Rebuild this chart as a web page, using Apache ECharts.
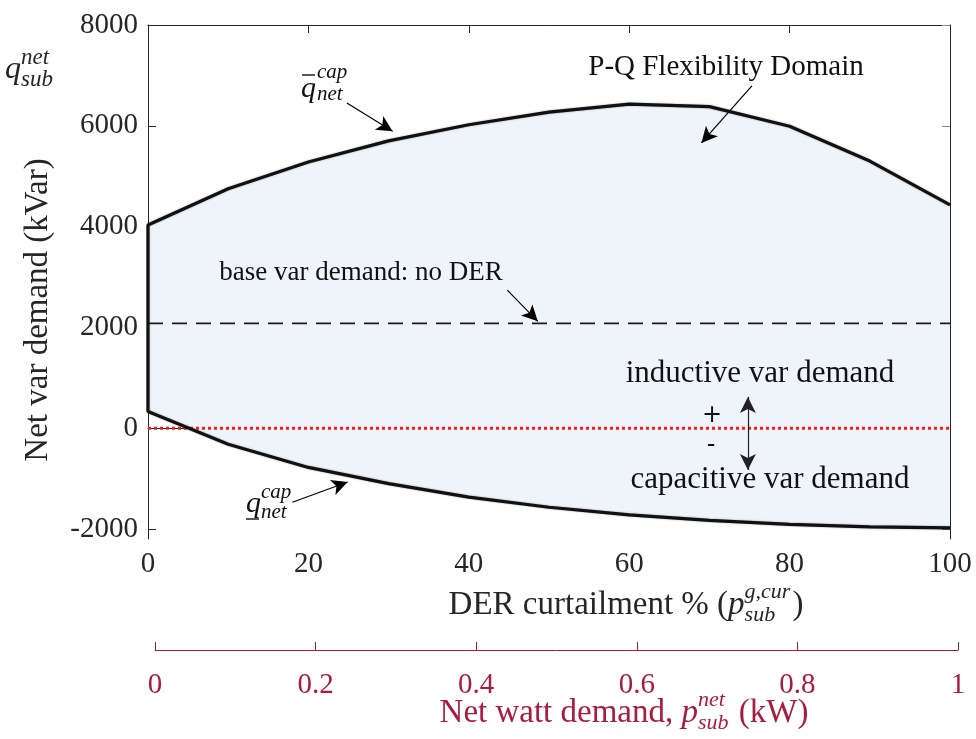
<!DOCTYPE html>
<html>
<head>
<meta charset="utf-8">
<script src="https://cdn.jsdelivr.net/npm/echarts@6/dist/echarts.min.js"></script>
<style>
  html, body { margin: 0; padding: 0; background: #fff; }
  #chart { width: 976px; height: 739px; }
</style>
</head>
<body>
<div id="chart"></div>
<script>
// DER curtailment (%) and the capability limits of the substation var demand
var curtailment = [0, 10, 20, 30, 40, 50, 60, 70, 80, 90, 100];
var upperCap = [4030, 4750, 5280, 5700, 6020, 6270, 6430, 6380, 5990, 5300, 4430];
var lowerCap = [330, -320, -780, -1100, -1370, -1570, -1720, -1830, -1910, -1960, -1980];
var baseVar = 2080;

var yTicks = [-2000, 0, 2000, 4000, 6000, 8000];
var wattTicks = [0, 0.2, 0.4, 0.6, 0.8, 1];

// annotation arrows, in data units [x, y]
var arrowUpper = [[24.8, 6450], [30.5, 5890]];
var arrowDomain = [[75.3, 6790], [69.0, 5660]];
var arrowBase = [[44.8, 2740], [48.6, 2120]];
var arrowLower = [[18.0, -1470], [24.9, -1070]];
var arrowSign = [[74.8, 620], [74.8, -830]];

var FONT = 'Liberation Serif';
var INK = '#262626';
var RED = '#a81c40';
var TICK = 29;
var TITLE = 33;

var ctx2d = document.createElement('canvas').getContext('2d');
function fontStr(size, italic) {
    return (italic ? 'italic ' : '') + size + 'px "' + FONT + '"';
}
function textWidth(t, size, italic) {
    ctx2d.font = fontStr(size, italic);
    return ctx2d.measureText(t).width;
}
function txt(t, x, y, size, italic, color, align) {
    return {
        type: 'text', silent: true, z: 100,
        style: {
            text: t, x: x, y: y, font: fontStr(size, italic), fill: color || INK,
            align: align || 'left', textAlign: align || 'left',
            verticalAlign: 'middle', textVerticalAlign: 'middle'
        }
    };
}
// a row of text with stacked super/subscripts, centred on cx
function mathRow(segs, cx, y, color) {
    var small = Math.round(TITLE * 0.68);
    var parts = [], w = 0;
    segs.forEach(function (s) {
        if (s.sup !== undefined) {
            parts.push({t: s.sup, dx: w, dy: -13, size: small, it: true});
            parts.push({t: s.sub, dx: w, dy: 10, size: small, it: true});
            w += Math.max(textWidth(s.sup, small, true), textWidth(s.sub, small, true)) + 2;
        } else {
            parts.push({t: s.t, dx: w, dy: 0, size: TITLE, it: !!s.it});
            w += textWidth(s.t, TITLE, !!s.it);
        }
    });
    return parts.map(function (p) {
        return txt(p.t, cx - w / 2 + p.dx, y + p.dy, p.size, p.it, color);
    });
}
function seg(a) {
    return {type: 'line', silent: true, z: 100, shape: {x1: a[0], y1: a[1], x2: a[2], y2: a[3]}, style: {stroke: '#111', lineWidth: 1.4}};
}

function arrow(pts, both, color) {
    return [
        {coord: pts[0], symbol: both ? 'arrow' : 'none', lineStyle: {color: color || '#000', width: 1.2, type: 'solid'}},
        {coord: pts[1], symbol: 'arrow'}
    ];
}

var outline = [];
for (var i = curtailment.length - 1; i >= 0; i--) outline.push([curtailment[i], upperCap[i]]);
for (var j = 0; j < curtailment.length; j++) outline.push([curtailment[j], lowerCap[j]]);

var graphics = [];
graphics.push({
    type: 'text', silent: true, x: 38, y: 310, rotation: Math.PI / 2,
    style: {text: 'Net var demand (kVar)', x: 0, y: 0, font: fontStr(TITLE, false), fill: INK,
        align: 'center', textAlign: 'center', verticalAlign: 'middle', textVerticalAlign: 'middle'}
});
graphics.push(txt('q', 5, 70, 32, true));
graphics.push(txt('net', 21, 58, 23, true));
graphics.push(txt('sub', 21, 80, 23, true));
graphics = graphics.concat(mathRow([{t: 'DER curtailment % ('}, {t: 'p', it: true}, {sup: 'g,cur', sub: 'sub'}, {t: ')'}], 626, 605, INK));
graphics = graphics.concat(mathRow([{t: 'Net watt demand, '}, {t: 'p', it: true}, {sup: 'net', sub: 'sub'}, {t: ' (kW)'}], 624, 713, RED));
graphics.push(txt('P-Q Flexibility Domain', 726, 67, 29, false, '#111', 'center'));
graphics.push(txt('base var demand: no DER', 361, 273, 27, false, '#111', 'center'));
graphics.push(txt('inductive var demand', 760, 374, 31, false, '#111', 'center'));
graphics.push(txt('capacitive var demand', 770, 480, 31, false, '#111', 'center'));
graphics.push({type: 'text', silent: true, z: 100, style: {text: '+', x: 712, y: 416, font: '24px "DejaVu Sans"', fill: '#111', align: 'center', textAlign: 'center', verticalAlign: 'middle', textVerticalAlign: 'middle'}});
graphics.push({type: 'text', silent: true, z: 100, style: {text: '-', x: 711, y: 446, font: '24px "DejaVu Sans"', fill: '#111', align: 'center', textAlign: 'center', verticalAlign: 'middle', textVerticalAlign: 'middle'}});
// upper / lower capability labels
graphics.push(txt('q', 301, 89, 30, true, '#111'));
graphics.push(seg([302, 75, 315, 75]));
graphics.push(txt('cap', 317, 72, 21, true, '#111'));
graphics.push(txt('net', 317, 94, 21, true, '#111'));
graphics.push(txt('q', 246, 504, 30, true, '#111'));
graphics.push(seg([246, 519, 259, 519]));
graphics.push(txt('cap', 261, 492, 21, true, '#111'));
graphics.push(txt('net', 261, 512, 21, true, '#111'));

function plain(v) { return String(v); }

var option = {
    animation: false,
    backgroundColor: '#fff',
    grid: [
        {left: 148, right: 26, top: 25, bottom: 200},
        {left: 155, right: 18, top: 650, height: 0}
    ],
    xAxis: [
        {
            type: 'value', gridIndex: 0, min: 0, max: 100, interval: 20,
            axisLine: {lineStyle: {color: INK, width: 1}},
            axisTick: {inside: true, length: 8, lineStyle: {color: INK}},
            axisLabel: {margin: 11, fontFamily: FONT, fontSize: TICK, color: INK, formatter: plain},
            splitLine: {show: false}
        },
        {
            type: 'value', gridIndex: 0, position: 'top', min: 0, max: 100, interval: 20,
            axisLine: {show: true, onZero: false, lineStyle: {color: INK, width: 1}},
            axisTick: {show: true, inside: true, length: 8, lineStyle: {color: INK}},
            axisLabel: {show: false},
            splitLine: {show: false}
        },
        {
            type: 'value', gridIndex: 1, position: 'bottom', min: 0, max: 1, interval: 0.2,
            axisLine: {onZero: false, lineStyle: {color: RED, width: 1}},
            axisTick: {inside: true, length: 8, lineStyle: {color: RED}},
            axisLabel: {margin: 21, fontFamily: FONT, fontSize: TICK, color: RED,
                customValues: wattTicks, formatter: plain},
            splitLine: {show: false}
        }
    ],
    yAxis: [
        {
            type: 'value', gridIndex: 0, min: -2200, max: 8000,
            axisLine: {show: true, onZero: false, lineStyle: {color: INK, width: 1}},
            axisTick: {show: true, inside: true, length: 8, lineStyle: {color: INK}, customValues: yTicks},
            axisLabel: {margin: 10, fontFamily: FONT, fontSize: TICK, color: INK, customValues: yTicks, formatter: plain},
            splitLine: {show: false}
        },
        {
            type: 'value', gridIndex: 0, position: 'right', min: -2200, max: 8000,
            axisLine: {show: true, onZero: false, lineStyle: {color: INK, width: 1}},
            axisTick: {show: true, inside: true, length: 8, lineStyle: {color: '#888'}, customValues: yTicks},
            axisLabel: {show: false},
            splitLine: {show: false}
        },
        {type: 'value', gridIndex: 1, show: false, min: 0, max: 1}
    ],
    series: [
        {
            name: 'domain', type: 'custom', xAxisIndex: 0, yAxisIndex: 0, silent: true, z: 1,
            data: [0],
            renderItem: function (params, api) {
                var pts = [];
                for (var k = 0; k < curtailment.length; k++) pts.push(api.coord([curtailment[k], upperCap[k]]));
                for (var m = curtailment.length - 1; m >= 0; m--) pts.push(api.coord([curtailment[m], lowerCap[m]]));
                return {type: 'polygon', shape: {points: pts}, style: {fill: '#eff4fb', stroke: null}};
            }
        },
        {
            name: 'base', type: 'line', xAxisIndex: 0, yAxisIndex: 0, z: 3, silent: true,
            symbol: 'none',
            data: [[0, baseVar], [100, baseVar]],
            lineStyle: {color: '#1a1a1a', width: 1.8, type: [15, 9]}
        },
        {
            name: 'zero', type: 'line', xAxisIndex: 0, yAxisIndex: 0, z: 3, silent: true,
            symbol: 'none',
            data: [[0, 0], [100, 0]],
            lineStyle: {color: '#ff1a1a', width: 3, type: [3, 3]}
        },
        {
            name: 'capability', type: 'line', xAxisIndex: 0, yAxisIndex: 0, z: 5, silent: true,
            symbol: 'none',
            data: outline,
            lineStyle: {color: '#111', width: 3.2, shadowBlur: 2, shadowColor: 'rgba(0,0,0,0.35)'}
        },
        {
            name: 'notes', type: 'line', xAxisIndex: 0, yAxisIndex: 0, z: 6, silent: true,
            data: [],
            markLine: {
                silent: true, animation: false,
                symbolSize: [12, 16],
                label: {show: false},
                data: [
                    arrow(arrowUpper), arrow(arrowDomain), arrow(arrowBase), arrow(arrowLower),
                    arrow(arrowSign, true, '#222')
                ]
            }
        },
        {
            name: 'box', type: 'line', xAxisIndex: 1, yAxisIndex: 1, data: [], silent: true
        },
        {
            name: 'watt', type: 'line', xAxisIndex: 2, yAxisIndex: 2, data: [], silent: true
        }
    ],
    graphic: graphics
};

var chart = echarts.init(document.getElementById('chart'), null, {renderer: 'canvas'});
chart.setOption(option);
</script>
</body>
</html>
